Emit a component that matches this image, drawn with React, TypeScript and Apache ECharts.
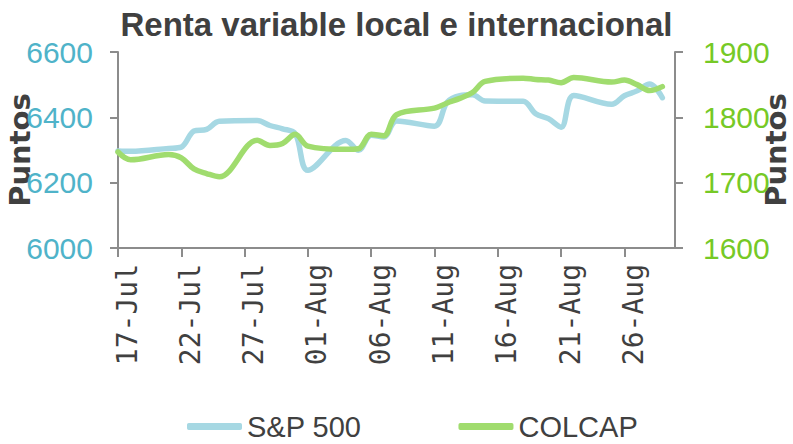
import React, { useEffect, useRef } from "react";
import * as echarts from "echarts";

// Trading days (2025) and values
const tradeDays = [
  "07-17", "07-18", "07-21", "07-22", "07-23", "07-24", "07-25",
  "07-28", "07-29", "07-30", "07-31", "08-01",
  "08-04", "08-05", "08-06", "08-07", "08-08",
  "08-11", "08-12", "08-13", "08-14", "08-15",
  "08-18", "08-19", "08-20", "08-21", "08-22",
  "08-25", "08-26", "08-27", "08-28", "08-29",
];
const sp500 = [
  6297, 6296, 6305, 6309, 6358, 6363, 6388,
  6390, 6375, 6365, 6350, 6238,
  6329, 6299, 6345, 6340, 6389,
  6373, 6446, 6466, 6469, 6450,
  6449, 6411, 6396, 6370, 6467,
  6440, 6466, 6481, 6502, 6460,
];
const colcap = [
  1747, 1735, 1743, 1738, 1721, 1714, 1709,
  1765, 1757, 1760, 1774, 1756,
  1751, 1752, 1774, 1772, 1804,
  1814, 1822, 1829, 1838, 1855,
  1860, 1858, 1857, 1853, 1861,
  1854, 1857, 1850, 1841, 1847,
];
const axisStart = "2025-07-17";
const axisEnd = "2025-08-30";
const monthNames = ["Jan", "Feb", "Mar", "Apr", "May", "Jun", "Jul", "Aug", "Sep", "Oct", "Nov", "Dec"];
const seriesNames = ["S&P 500", "COLCAP"];
const titleText = "Renta variable local e internacional";
const axisName = "Puntos";

const buildCalendar = () => {
  const out: { key: string; label: string }[] = [];
  const d = new Date(axisStart + "T00:00:00Z");
  const end = new Date(axisEnd + "T00:00:00Z");
  while (d.getTime() <= end.getTime()) {
    const mm = String(d.getUTCMonth() + 1).padStart(2, "0");
    const dd = String(d.getUTCDate()).padStart(2, "0");
    out.push({ key: `${mm}-${dd}`, label: `${dd}-${monthNames[d.getUTCMonth()]}` });
    d.setUTCDate(d.getUTCDate() + 1);
  }
  return out;
};

export default function App() {
  const ref = useRef<HTMLDivElement>(null);
  useEffect(() => {
    if (!ref.current) return;
    const chart = echarts.init(ref.current, null, { renderer: "svg" });
    const cal = buildCalendar();
    const cats = cal.map((c) => c.label);
    const mapSeries = (vals: number[]) =>
      cal.map((c) => {
        const i = tradeDays.indexOf(c.key);
        return i >= 0 ? vals[i] : null;
      });
    const axisColor = "#8c8c8c";
    const textDark = "#404040";
    const blue = "#a6d8e3";
    const green = "#a0dc6e";
    const plain = (v: number) => String(v);
    const nameStyle = {
      fontFamily: "'DejaVu Sans', Verdana, sans-serif",
      fontWeight: "bold",
      fontSize: 29,
      color: textDark,
    };
    chart.setOption({
      animation: false,
      backgroundColor: "#ffffff",
      title: {
        text: titleText,
        left: "center",
        top: 3,
        textStyle: {
          fontFamily: "'Liberation Sans', Arial, sans-serif",
          fontWeight: "bold",
          fontSize: 33,
          color: textDark,
        },
      },
      grid: { left: 118, right: 118, top: 52, bottom: 196, containLabel: false, outerBoundsMode: "none" },
      legend: {
        left: 182,
        top: 407,
        itemWidth: 55,
        itemHeight: 7,
        itemGap: 97,
        icon: "roundRect",
        textStyle: {
          fontFamily: "'Liberation Sans', Arial, sans-serif",
          fontSize: 29,
          color: textDark,
        },
        data: seriesNames,
      },
      xAxis: {
        type: "category",
        data: cats,
        boundaryGap: false,
        axisLine: { show: true, lineStyle: { color: axisColor, width: 2 } },
        axisTick: { show: true, interval: 4, length: 9, lineStyle: { color: axisColor, width: 2 } },
        axisLabel: {
          interval: 4,
          rotate: 90,
          margin: 16,
          verticalAlign: "top",
          lineHeight: 18,
          fontFamily: "'DejaVu Sans Mono', monospace",
          fontSize: 28,
          color: textDark,
        },
        splitLine: { show: false },
      },
      yAxis: [
        {
          type: "value",
          min: 6000,
          max: 6600,
          interval: 200,
          name: axisName,
          nameLocation: "middle",
          nameRotate: 90,
          nameGap: 84,
          nameMoveOverlap: false,
          nameTextStyle: nameStyle,
          axisLine: { show: true, lineStyle: { color: axisColor, width: 2 } },
          axisTick: { show: true, length: 8, lineStyle: { color: axisColor, width: 2 } },
          axisLabel: {
            margin: 25,
            formatter: plain,
            fontFamily: "'Liberation Sans', Arial, sans-serif",
            fontSize: 30,
            color: "#4fb3c9",
          },
          splitLine: { show: false },
        },
        {
          type: "value",
          min: 1600,
          max: 1900,
          interval: 100,
          position: "right",
          name: axisName,
          nameLocation: "middle",
          nameRotate: 90,
          nameGap: 86,
          nameMoveOverlap: false,
          nameTextStyle: nameStyle,
          axisLine: { show: true, lineStyle: { color: axisColor, width: 2 } },
          axisTick: { show: true, length: 8, lineStyle: { color: axisColor, width: 2 } },
          axisLabel: {
            margin: 28,
            formatter: plain,
            fontFamily: "'Liberation Sans', Arial, sans-serif",
            fontSize: 30,
            color: "#76c926",
          },
          splitLine: { show: false },
        },
      ],
      series: [
        {
          name: seriesNames[0],
          type: "line",
          yAxisIndex: 0,
          data: mapSeries(sp500),
          connectNulls: true,
          smooth: 0.35,
          showSymbol: false,
          symbol: "none",
          itemStyle: { color: blue },
          lineStyle: { color: blue, width: 5.5, cap: "round", join: "round" },
        },
        {
          name: seriesNames[1],
          type: "line",
          yAxisIndex: 1,
          data: mapSeries(colcap),
          connectNulls: true,
          smooth: 0.35,
          showSymbol: false,
          symbol: "none",
          itemStyle: { color: green },
          lineStyle: { color: green, width: 5.5, cap: "round", join: "round" },
        },
      ],
    });
    return () => chart.dispose();
  }, []);
  return (
    <div
      ref={ref}
      style={{ position: "fixed", left: 0, top: 0, width: 793, height: 444, background: "#fff" }}
    />
  );
}
